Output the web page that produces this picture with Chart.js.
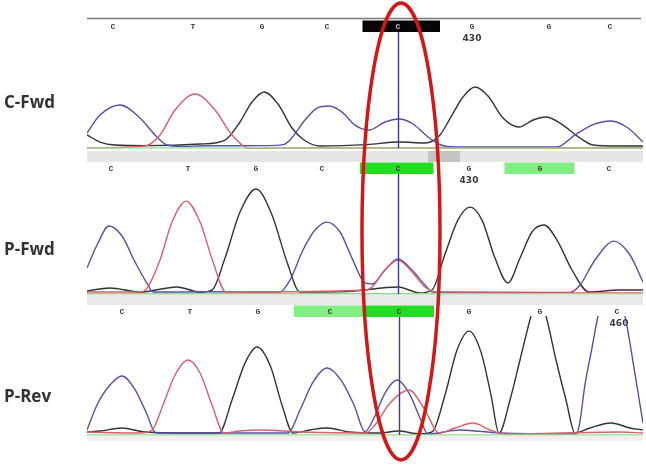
<!DOCTYPE html>
<html><head><meta charset="utf-8">
<script src="https://cdn.jsdelivr.net/npm/chart.js@4.4.1/dist/chart.umd.min.js"></script>
<style>html,body{margin:0;padding:0;background:#fff;overflow:hidden}canvas{display:block}</style>
</head><body>
<canvas id="c" width="646" height="465"></canvas>
<script>
// ---------- DATA (scan position, signal intensity) ----------
const panelNames = ['C-Fwd', 'P-Fwd', 'P-Rev'];
const baseCalls = ['C', 'T', 'G', 'C', 'C', 'G', 'G', 'C'];
const basePos1 = [13, 53, 87.5, 120, 155.5, 192.5, 231, 261.5];
const basePos2 = [12, 50.5, 84.5, 117.5, 155.5, 191, 226.5, 261];
const basePos3 = [17.5, 51.5, 85.5, 121.5, 156, 191, 226.5, 265];

// highlighted base calls: panel, base index, kind
const hlPanel = [0, 1, 1, 2, 2];
const hlIndex = [4, 4, 6, 3, 4];
const hlKind = ['black', 'bright', 'light', 'light', 'bright'];

// base numbering marks
const numPanel = [0, 1, 2];
const numIndex = [5, 5, 7];
const numText = ['430', '430', '460'];

// low-quality marker in panel 1 (scan range)
const qualMark = [170.5, 186.5];

// Panel 1: C-Fwd
const c1Green = [[0, -8], [278, -10]];
const c1Red = [[0, -8], [29, 8], [36.5, 102], [44, 313], [54, 449], [64, 313], [72.5, 102], [81.5, -12], [95, -8], [278, -8]];
const c1Blue = [[0, 119], [6.5, 271], [16.5, 356], [26.5, 246], [34, 102], [40, 17], [47, 5], [60, 10], [90, 12], [98, 20], [101.5, 60], [109, 229], [115, 330], [121, 347], [127.5, 296], [134, 186], [141, 144], [149, 212], [156, 237], [163, 195], [170.5, 85], [177, 17], [184, 0], [235, 0], [244, 102], [252.5, 186], [262, 220], [270.5, 161], [278, 42]];
const c1Black = [[0, 102], [6.5, 42], [14, 17], [30, 12], [56.5, 25], [69, 59], [76.5, 212], [82.5, 381], [88.5, 466], [95.5, 364], [102.5, 161], [108.5, 59], [116.5, 8], [140, 20], [156, 42], [169, 34], [176.5, 102], [182.5, 271], [188, 424], [194, 508], [200.5, 432], [208, 246], [216, 169], [223, 229], [229.5, 254], [236.5, 203], [246.5, 76], [253, 17], [265, 8], [278, 8]];

// Panel 2: P-Fwd
const c2Green = [[0, -5], [278, -5]];
const c2Red = [[0, 8], [26.5, 8], [30, 42], [36.5, 280], [42.5, 601], [49.5, 779], [56.5, 601], [63, 263], [69.5, 8], [139, 25], [142.5, 51], [149, 195], [155.5, 280], [162.5, 178], [169, 51], [176.5, 0], [278, 0]];
const c2Blue = [[0, 212], [5, 407], [11, 568], [17.5, 483], [24, 263], [30.5, 68], [33, 8], [60, 10], [96.5, 8], [101.5, 110], [108, 364], [114, 534], [120, 601], [126.5, 517], [132.5, 296], [139, 85], [142.5, 76], [149, 195], [155.5, 288], [162.5, 195], [169, 68], [173, 8], [241.5, 5], [246.5, 68], [254, 280], [263.5, 440], [271.5, 322], [278, 93]];
const c2Black = [[0, 17], [11.5, 42], [26.5, 8], [45, 51], [56.5, 8], [62.5, 25], [69, 296], [76.5, 686], [84.5, 881], [92.5, 661], [100, 263], [106.5, 8], [130, 12], [155.5, 51], [166.5, 0], [172.5, 25], [179, 330], [185.5, 620], [191.5, 728], [197.5, 618], [204, 296], [210.5, 85], [216.5, 296], [222.5, 517], [228.5, 576], [235, 449], [242.5, 195], [251, 8], [266.5, 25], [278, 25]];

// Panel 3: P-Rev
const c3Green = [[0, -8], [278, -8]];
const c3Red = [[0, 17], [26.5, 8], [32.5, 34], [38, 246], [44, 500], [50.5, 627], [56.5, 517], [62.5, 246], [68.5, 8], [76.5, 25], [86.5, 34], [106.5, 17], [139, 8], [144, 76], [151.5, 263], [161, 373], [169, 203], [176, 8], [184, 51], [193, 93], [201.5, 34], [209, 0], [266.5, 17], [278, 8]];
const c3Blue = [[0, 34], [5, 246], [11.5, 415], [17.5, 491], [23.5, 390], [29.5, 186], [34.5, 8], [60, 8], [100.5, 8], [106.5, 203], [113, 440], [120, 559], [127, 457], [133.5, 246], [139, 20], [143, 119], [149, 347], [155, 457], [161, 347], [166.5, 136], [170.5, 0], [186.5, 34], [206.5, 8], [244, 0], [246, 60], [249, 420], [252.5, 730], [255.5, 1000], [262, 1350], [269, 1000], [273.5, 560], [278, 90]];
const c3Black = [[0, 17], [6.5, 25], [17.5, 51], [29, 17], [56.5, 8], [66, 8], [72.5, 288], [79, 601], [85, 737], [91.5, 584], [97.5, 246], [103, 8], [111.5, 34], [120, 51], [131.5, 17], [146.5, 8], [155.5, 25], [166.5, 0], [172.5, 17], [179, 330], [185, 711], [191, 872], [197, 694], [202, 330], [206, 8], [211.5, 288], [216.5, 627], [222, 1000], [225.5, 1180], [229.5, 1000], [234.5, 627], [239.5, 288], [244, 8], [251.5, 51], [262, 93], [271.5, 51], [278, 34]];

// ---------- LAYOUT / STYLE ----------
const W = 646, H = 465;
const PAD_L = 87, PAD_R = 3;
const panelBase = [147, 293, 434];   // px of zero signal
const ampPx = 118;                    // px for 1000 signal units
const labelRow = [26, 168, 311];
const greyBar = [[151, 162, '#e6e6e6'], [294, 305, '#e9e9e9'], [436, 441, '#f0f0f0']];
const titleY = [103, 250, 397];
const COLORS = { A: '#8fdc8f', T: '#d85f6c', C: '#5252a6', G: '#333333' };
const HL = { black: '#050505', bright: '#22dd22', light: '#80ee80' };
const basePos = [basePos1, basePos2, basePos3];
const traces = [
  [c1Green, c1Red, c1Blue, c1Black],
  [c2Green, c2Red, c2Blue, c2Black],
  [c3Green, c3Red, c3Blue, c3Black]
];
const traceColors = [COLORS.A, COLORS.T, COLORS.C, COLORS.G];

const K = 1000 / ampPx;
const scales = { x: { type: 'linear', min: 0, max: 278, display: false } };
panelBase.forEach((b, p) => {
  scales['y' + p] = { type: 'linear', display: false, min: -(H - b) * K, max: b * K };
});

const datasets = [];
traces.forEach((set, p) => {
  set.forEach((arr, i) => {
    datasets.push({
      data: arr, yAxisID: 'y' + p, panel: p,
      borderColor: traceColors[i], borderWidth: i === 0 ? 1.3 : 1.4,
      pointRadius: 0, fill: false, cubicInterpolationMode: 'monotone'
    });
  });
});

function boxEdges(pos, i) {
  const l = i > 0 ? (pos[i - 1] + pos[i]) / 2 : pos[i] - 18;
  const r = i < pos.length - 1 ? (pos[i] + pos[i + 1]) / 2 : pos[i] + 18;
  return [l, r];
}

const decor = {
  id: 'decor',
  beforeDatasetsDraw(chart) {
    const ctx = chart.ctx, xs = chart.scales.x, a = chart.chartArea;
    ctx.save();
    greyBar.forEach(([t, b, c]) => { ctx.fillStyle = c; ctx.fillRect(a.left, t, a.right - a.left, b - t); });
    ctx.fillStyle = '#c3c3c3';
    ctx.fillRect(xs.getPixelForValue(qualMark[0]), greyBar[0][0], xs.getPixelForValue(qualMark[1]) - xs.getPixelForValue(qualMark[0]), greyBar[0][1] - greyBar[0][0]);
    ctx.strokeStyle = '#7a7a7a'; ctx.lineWidth = 1.5;
    ctx.beginPath(); ctx.moveTo(a.left, 18.5); ctx.lineTo(a.right - 2, 18.5); ctx.stroke();
    hlPanel.forEach((p, k) => {
      const [l, r] = boxEdges(basePos[p], hlIndex[k]);
      const x0 = xs.getPixelForValue(l), x1 = xs.getPixelForValue(r);
      ctx.fillStyle = HL[hlKind[k]];
      ctx.fillRect(x0, labelRow[p] - 5.5, x1 - x0 + (hlKind[k] === 'black' ? 5 : 0), 11.5);
    });
    ctx.textAlign = 'center'; ctx.textBaseline = 'middle';
    ctx.font = 'bold 8px "Liberation Mono", "DejaVu Sans Mono", monospace';
    basePos.forEach((pos, p) => {
      pos.forEach((v, i) => {
        const black = hlPanel.some((hp, k) => hp === p && hlIndex[k] === i && hlKind[k] === 'black');
        ctx.fillStyle = black ? '#bdbdbd' : '#3a3a3a';
        ctx.fillText(baseCalls[i], xs.getPixelForValue(v), labelRow[p] + 0.5);
      });
    });
    ctx.font = 'bold 9px "DejaVu Sans", sans-serif';
    ctx.fillStyle = '#3a3a3a';
    numPanel.forEach((p, k) => {
      ctx.fillText(numText[k], xs.getPixelForValue(basePos[p][numIndex[k]]) + (p === 2 ? 2 : 0), labelRow[p] + 12.5);
    });
    ctx.restore();
  },
  beforeDatasetDraw(chart, args) {
    const ds = chart.data.datasets[args.index];
    const ys = chart.scales['y' + ds.panel], a = chart.chartArea;
    const top = ys.getPixelForValue(1000), bot = ys.getPixelForValue(0) + 6;
    chart.ctx.save();
    chart.ctx.beginPath();
    chart.ctx.rect(a.left, top, a.right - a.left, bot - top);
    chart.ctx.clip();
  },
  afterDatasetDraw(chart) { chart.ctx.restore(); },
  afterDatasetsDraw(chart) {
    const ctx = chart.ctx, xs = chart.scales.x;
    ctx.save();
    ctx.strokeStyle = '#3b3b9c'; ctx.lineWidth = 1.4;
    basePos.forEach((pos, p) => {
      const x = Math.round(xs.getPixelForValue(pos[4])) + 0.5;
      ctx.beginPath(); ctx.moveTo(x, labelRow[p] + 6); ctx.lineTo(x, panelBase[p] + 1); ctx.stroke();
    });
    ctx.restore();
  },
  afterDraw(chart) {
    const ctx = chart.ctx, xs = chart.scales.x;
    ctx.save();
    ctx.fillStyle = '#333333';
    ctx.font = 'bold 17px "Open Sans", "Liberation Sans", sans-serif';
    ctx.textAlign = 'left'; ctx.textBaseline = 'middle';
    panelNames.forEach((t, p) => ctx.fillText(t, 4, titleY[p]));
    const cx = xs.getPixelForValue(basePos2[4]) + 3;
    ctx.strokeStyle = '#d01818'; ctx.lineWidth = 3.5;
    ctx.beginPath(); ctx.ellipse(cx, 231.5, 39, 228.5, 0, 0, Math.PI * 2); ctx.stroke();
    ctx.restore();
  }
};

new Chart(document.getElementById('c'), {
  type: 'line',
  data: { datasets },
  options: {
    responsive: false, animation: false, devicePixelRatio: 1,
    layout: { padding: { left: PAD_L, right: PAD_R, top: 0, bottom: 0 } },
    scales,
    plugins: { legend: { display: false }, tooltip: { enabled: false } }
  },
  plugins: [decor]
});
</script>
</body></html>
